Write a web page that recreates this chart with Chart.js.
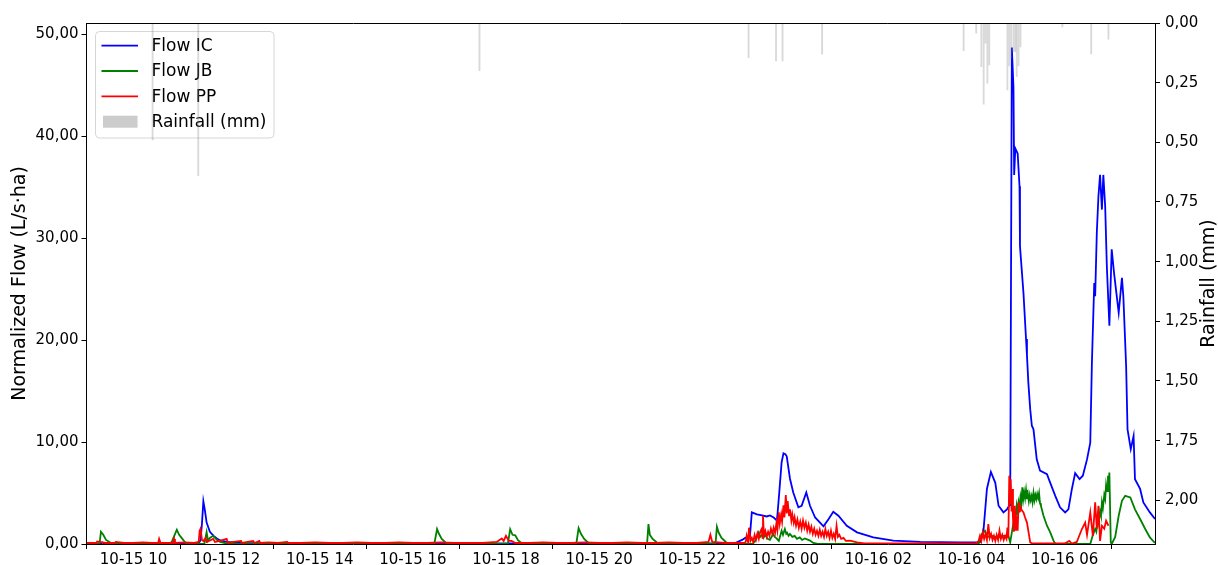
<!DOCTYPE html>
<html>
<head>
<meta charset="utf-8">
<script src="https://cdn.jsdelivr.net/npm/chart.js@4.4.1/dist/chart.umd.min.js"></script>
<style>
html,body{margin:0;padding:0;background:#ffffff;}
canvas{display:block;}
</style>
</head>
<body>
<canvas id="c" width="1218" height="565"></canvas>
<script>
// Time in hours since 10-15 00:00 (24 = 10-16 00:00)
const xTickHours = [10, 12, 14, 16, 18, 20, 22, 24, 26, 28, 30];
const xTickLabels = ['10-15 10', '10-15 12', '10-15 14', '10-15 16', '10-15 18', '10-15 20', '10-15 22', '10-16 00', '10-16 02', '10-16 04', '10-16 06'];
const flowTicks = [0, 10, 20, 30, 40, 50];
const rainTicks = [0, 0.25, 0.5, 0.75, 1.0, 1.25, 1.5, 1.75, 2.0];
const seriesNames = ['Flow IC', 'Flow JB', 'Flow PP', 'Rainfall (mm)'];

// [hour, L/s·ha]
const flowIC = [[9.00,0.05],[9.30,0.05],[9.33,0.15],[9.37,0.05],[11.40,0.05],[11.44,0.4],[11.47,2.0],[11.50,4.2],[11.53,3.4],[11.57,2.1],[11.64,1.2],[11.72,0.8],[11.79,0.55],[11.86,0.35],[12.00,0.2],[12.30,0.1],[13.00,0.05],[22.90,0.05],[23.07,0.4],[23.14,0.6],[23.24,0.8],[23.28,3.1],[23.39,2.9],[23.50,2.8],[23.60,2.7],[23.67,2.8],[23.75,2.6],[23.82,2.3],[23.86,4.5],[23.92,8.0],[23.96,8.9],[24.00,8.8],[24.03,8.6],[24.10,6.4],[24.17,5.05],[24.28,3.6],[24.35,3.75],[24.45,5.05],[24.53,3.75],[24.64,2.6],[24.82,1.73],[24.93,2.45],[25.03,3.16],[25.14,2.77],[25.32,1.79],[25.54,1.14],[25.89,0.65],[26.32,0.33],[26.90,0.2],[27.76,0.15],[28.18,0.15],[28.25,1.0],[28.33,5.4],[28.415,7.07],[28.51,6.0],[28.58,3.75],[28.685,3.1],[28.76,3.4],[28.81,3.75],[28.83,3.8],[28.865,48.7],[28.90,44.8],[28.915,36.2],[28.94,38.8],[28.99,38.3],[29.03,35.1],[29.04,29.2],[29.115,24.6],[29.17,20.1],[29.19,18.5],[29.22,15.8],[29.26,13.2],[29.295,11.6],[29.33,11.25],[29.40,8.3],[29.47,7.2],[29.62,6.85],[29.69,6.0],[29.80,4.7],[29.90,3.6],[30.01,3.1],[30.08,3.4],[30.155,5.4],[30.225,6.95],[30.32,6.36],[30.39,6.7],[30.48,8.3],[30.55,9.95],[30.585,17.8],[30.635,25.6],[30.655,24.3],[30.69,30.5],[30.725,34.1],[30.76,36.2],[30.80,32.8],[30.83,36.2],[30.87,33.1],[30.906,27.2],[30.96,21.4],[31.01,28.9],[31.06,26.6],[31.16,22.7],[31.23,26.1],[31.26,24.3],[31.32,17.45],[31.35,11.25],[31.42,9.3],[31.48,10.6],[31.51,6.36],[31.62,5.4],[31.69,4.08],[31.83,3.1],[31.94,2.45]];

const flowJB = [[9.00,0],[9.27,0],[9.30,1.2],[9.35,0.9],[9.41,0.4],[9.50,0.15],[9.54,0.05],[10.78,0],[10.83,0.3],[10.93,1.4],[10.98,0.9],[11.05,0.5],[11.11,0.15],[11.15,0],[11.52,0],[11.57,1.17],[11.60,0.3],[11.64,0.6],[11.71,0.8],[11.79,0.4],[11.86,0.2],[12.00,0.05],[12.10,0],[16.46,0],[16.52,1.47],[16.56,1.0],[16.62,0.5],[16.70,0.15],[16.78,0],[18.04,0],[18.09,1.45],[18.14,0.9],[18.20,0.85],[18.26,0.35],[18.35,0.05],[18.40,0],[19.51,0],[19.56,1.55],[19.61,1.0],[19.68,0.5],[19.76,0.15],[19.85,0],[21.03,0],[21.06,1.95],[21.09,0.9],[21.15,0.5],[21.24,0.15],[21.30,0],[22.50,0],[22.53,1.7],[22.57,1.1],[22.63,0.6],[22.72,0.2],[22.80,0],[23.30,0],[23.35,0.3],[23.42,1.14],[23.46,0.7],[23.50,0.9],[23.53,0.6],[23.565,0.9],[23.62,0.5],[23.67,0.4],[23.74,1.0],[23.77,0.7],[23.80,0.6],[23.86,0.3],[23.92,1.3],[23.95,0.9],[23.99,1.47],[24.02,1.0],[24.04,1.1],[24.07,0.8],[24.10,0.98],[24.15,0.7],[24.20,0.8],[24.25,0.5],[24.31,0.65],[24.36,0.4],[24.42,0.55],[24.53,0.33],[24.60,0.1],[24.70,0],[28.15,0],[28.22,0.98],[28.29,1.3],[28.35,0.7],[28.45,0.8],[28.55,0.6],[28.685,0.8],[28.79,0.8],[28.83,0.16],[28.90,2.1],[28.93,3.0],[28.95,2.6],[28.97,3.75],[28.99,3.2],[29.01,4.1],[29.03,3.6],[29.05,4.6],[29.07,4.0],[29.09,5.55],[29.11,4.4],[29.13,5.1],[29.15,4.5],[29.17,5.3],[29.19,4.4],[29.21,4.9],[29.23,4.2],[29.25,4.8],[29.27,4.3],[29.29,4.7],[29.31,4.1],[29.33,5.0],[29.35,4.3],[29.37,4.8],[29.39,4.4],[29.41,4.9],[29.43,4.5],[29.45,5.0],[29.47,4.0],[29.49,3.75],[29.545,2.77],[29.62,1.79],[29.69,1.14],[29.76,0.33],[29.80,0],[30.55,0],[30.60,0.8],[30.655,1.47],[30.68,1.2],[30.71,2.4],[30.73,2.0],[30.76,3.2],[30.78,2.8],[30.80,4.08],[30.82,3.5],[30.85,4.8],[30.87,4.4],[30.89,5.8],[30.91,5.2],[30.93,6.7],[30.95,6.2],[30.96,7.0],[30.99,0.16],[31.01,0],[31.085,0.7],[31.16,2.77],[31.23,4.24],[31.30,4.73],[31.41,4.57],[31.51,3.4],[31.62,2.45],[31.73,1.47],[31.83,0.65],[31.94,0.1]];

const flowPP = [[9.00,0.1],[9.20,0.1],[9.22,0.25],[9.40,0.1],[9.60,0.1],[9.62,0.2],[9.80,0.1],[10.00,0.1],[10.20,0.15],[10.40,0.1],[10.53,0.1],[10.55,0.5],[10.58,0.1],[10.80,0.1],[10.85,0.1],[10.87,0.5],[10.89,0.1],[11.10,0.15],[11.30,0.1],[11.40,0.2],[11.42,1.3],[11.44,1.5],[11.47,0.4],[11.50,0.3],[11.55,0.6],[11.57,0.2],[11.62,0.3],[11.71,0.5],[11.75,0.2],[11.85,0.3],[12.00,0.5],[12.03,0.1],[12.15,0.2],[12.31,0.3],[12.33,0.1],[12.45,0.2],[12.57,0.3],[12.60,0.1],[12.70,0.3],[12.72,0.1],[12.90,0.15],[13.10,0.1],[13.30,0.2],[13.32,0.1],[13.60,0.1],[13.90,0.15],[14.20,0.1],[14.50,0.1],[14.80,0.15],[15.10,0.1],[15.40,0.1],[15.70,0.15],[16.00,0.1],[16.30,0.1],[16.60,0.15],[16.90,0.1],[17.20,0.1],[17.50,0.1],[17.80,0.2],[17.91,0.55],[17.95,0.3],[18.00,0.8],[18.06,0.3],[18.12,0.3],[18.20,0.1],[18.50,0.1],[18.80,0.15],[19.10,0.1],[19.40,0.1],[19.70,0.15],[20.00,0.1],[20.30,0.1],[20.60,0.15],[20.90,0.1],[21.20,0.1],[21.50,0.15],[21.80,0.1],[22.10,0.1],[22.35,0.2],[22.39,0.9],[22.43,0.2],[22.70,0.1],[22.90,0.1],[23.10,0.1],[23.15,0.2],[23.17,0.8],[23.20,0.2],[23.22,1.6],[23.25,0.3],[23.28,0.6],[23.31,0.2],[23.34,0.9],[23.37,0.4],[23.40,1.0],[23.43,0.5],[23.46,1.2],[23.49,1.47],[23.51,0.6],[23.52,2.77],[23.54,0.9],[23.57,1.3],[23.60,0.7],[23.63,1.2],[23.66,0.8],[23.69,1.5],[23.72,1.0],[23.75,1.6],[23.78,1.1],[23.81,2.1],[23.83,1.4],[23.86,3.1],[23.88,2.0],[23.91,2.9],[23.93,2.2],[23.96,3.8],[23.98,2.6],[24.01,4.8],[24.03,3.0],[24.05,4.2],[24.08,2.8],[24.10,3.4],[24.13,2.3],[24.15,2.9],[24.18,2.1],[24.20,2.6],[24.23,1.8],[24.26,2.4],[24.29,1.6],[24.32,2.2],[24.35,1.5],[24.38,2.3],[24.41,1.6],[24.44,2.1],[24.47,1.3],[24.50,1.9],[24.53,1.2],[24.56,1.7],[24.59,1.0],[24.62,1.5],[24.65,0.9],[24.68,1.3],[24.71,0.8],[24.74,1.4],[24.77,0.8],[24.80,1.2],[24.83,0.7],[24.86,1.47],[24.89,0.8],[24.92,1.2],[24.95,0.6],[24.98,1.3],[25.01,0.6],[25.04,1.0],[25.07,0.5],[25.10,1.79],[25.13,0.7],[25.16,0.9],[25.20,0.5],[25.25,0.6],[25.30,0.3],[25.39,0.33],[25.54,0.16],[25.70,0.05],[28.10,0.05],[28.15,0.3],[28.18,0.8],[28.21,0.3],[28.24,1.14],[28.27,0.5],[28.30,1.0],[28.33,0.4],[28.36,1.96],[28.39,0.6],[28.42,0.98],[28.45,0.4],[28.48,0.8],[28.51,0.3],[28.54,0.9],[28.57,0.4],[28.60,1.3],[28.63,0.5],[28.66,0.9],[28.69,0.4],[28.72,0.8],[28.75,0.5],[28.77,1.6],[28.79,0.6],[28.81,6.7],[28.83,4.0],[28.84,6.36],[28.86,3.2],[28.87,5.4],[28.89,2.45],[28.91,1.2],[28.93,3.75],[28.95,1.3],[28.97,2.2],[28.99,1.3],[29.01,4.08],[29.03,3.2],[29.04,3.75],[29.08,3.3],[29.115,3.1],[29.15,2.6],[29.19,2.1],[29.23,1.0],[29.26,0.16],[29.30,0.05],[30.00,0.05],[30.10,0.3],[30.15,0.05],[30.26,0.2],[30.37,1.47],[30.44,2.1],[30.48,0.9],[30.55,3.1],[30.605,0.8],[30.655,4.08],[30.69,1.5],[30.725,3.75],[30.76,0.3],[30.80,1.79],[30.85,1.5],[30.89,2.28],[30.94,1.79]];

// [hour, mm]
const rainfall = [[10.41,0.49],[11.39,0.64],[17.43,0.2],[23.21,0.145],[23.80,0.159],[23.94,0.159],[24.79,0.131],[27.83,0.116],[28.10,0.043],[28.21,0.183],[28.26,0.34],[28.30,0.085],[28.34,0.252],[28.38,0.176],[28.77,0.28],[28.81,0.18],[28.85,0.15],[28.90,0.12],[28.94,0.12],[28.97,0.225],[29.01,0.18],[29.05,0.1],[29.95,0.016],[30.57,0.13],[30.94,0.068]];

const toXY = arr => arr.map(p => ({x: p[0], y: p[1]}));
const fmt2 = v => v.toFixed(2).replace('.', ',');
const FONT = "'DejaVu Sans', sans-serif";

const decorPlugin = {
  id: 'decor',
  beforeDatasetsDraw(chart) {
    const ctx = chart.ctx;
    const x0 = 95.5, y0 = 31.5, w = 178.5, h = 106.5, r = 4;
    ctx.save();
    ctx.beginPath();
    ctx.moveTo(x0 + r, y0);
    ctx.lineTo(x0 + w - r, y0);
    ctx.arcTo(x0 + w, y0, x0 + w, y0 + r, r);
    ctx.lineTo(x0 + w, y0 + h - r);
    ctx.arcTo(x0 + w, y0 + h, x0 + w - r, y0 + h, r);
    ctx.lineTo(x0 + r, y0 + h);
    ctx.arcTo(x0, y0 + h, x0, y0 + h - r, r);
    ctx.lineTo(x0, y0 + r);
    ctx.arcTo(x0, y0, x0 + r, y0, r);
    ctx.closePath();
    ctx.fillStyle = 'rgba(255,255,255,0.8)';
    ctx.fill();
    ctx.strokeStyle = '#d6d6d6';
    ctx.lineWidth = 1;
    ctx.stroke();
    const rows = [45.7, 71, 96.3, 121.7];
    const ds = chart.data.datasets;
    ctx.font = '17px ' + FONT;
    ctx.textBaseline = 'middle';
    ctx.textAlign = 'left';
    for (let i = 0; i < 4; i++) {
      const yy = rows[i];
      if (i < 3) {
        ctx.strokeStyle = ds[i].borderColor;
        ctx.lineWidth = 1.8;
        ctx.beginPath();
        ctx.moveTo(101.5, yy);
        ctx.lineTo(138, yy);
        ctx.stroke();
      } else {
        ctx.fillStyle = '#cccccc';
        ctx.fillRect(103, yy - 6, 34.5, 12);
      }
      ctx.fillStyle = '#000';
      ctx.fillText(ds[i].label, 151.5, yy + 1);
    }
    ctx.restore();
  },
  afterDraw(chart) {
    const ctx = chart.ctx;
    const a = chart.chartArea;
    ctx.save();
    ctx.strokeStyle = '#000';
    ctx.lineWidth = 1;
    ctx.beginPath();
    ctx.moveTo(a.left, a.top + 0.5);
    ctx.lineTo(a.right, a.top + 0.5);
    ctx.stroke();
    const cy = (a.top + a.bottom) / 2;
    ctx.font = '19px ' + FONT;
    ctx.fillStyle = '#000';
    ctx.textAlign = 'center';
    ctx.textBaseline = 'middle';
    ctx.translate(20, cy);
    ctx.rotate(-Math.PI / 2);
    ctx.fillText('Normalized Flow (L/s·ha)', 0, 0);
    ctx.restore();
    ctx.save();
    ctx.font = '19px ' + FONT;
    ctx.fillStyle = '#000';
    ctx.textAlign = 'center';
    ctx.textBaseline = 'middle';
    ctx.translate(1209, cy);
    ctx.rotate(-Math.PI / 2);
    ctx.fillText('Rainfall (mm)', 0, 0);
    ctx.restore();
  }
};

const axisGrid = {display: true, drawOnChartArea: false, drawTicks: true, tickLength: 5, tickColor: '#000', tickWidth: 1};
const axisBorder = {display: true, color: '#000', width: 1};
const tickFont = {family: FONT, size: 15};

new Chart(document.getElementById('c'), {
  type: 'line',
  data: {
    datasets: [
      {label: seriesNames[0], data: toXY(flowIC), borderColor: '#0000ff', borderWidth: 1.8, pointRadius: 0, tension: 0, yAxisID: 'y', order: 3},
      {label: seriesNames[1], data: toXY(flowJB), borderColor: '#008000', borderWidth: 1.8, pointRadius: 0, tension: 0, yAxisID: 'y', order: 2},
      {label: seriesNames[2], data: toXY(flowPP), borderColor: '#ff0000', borderWidth: 1.8, pointRadius: 0, tension: 0, yAxisID: 'y', order: 1},
      {type: 'bar', label: seriesNames[3], data: toXY(rainfall), backgroundColor: 'rgba(128,128,128,0.3)', borderWidth: 0, barThickness: 1.2, yAxisID: 'y2', order: 0, grouped: false}
    ]
  },
  options: {
    responsive: false,
    animation: false,
    devicePixelRatio: 1,
    layout: {padding: {top: 23, left: 0, right: 0, bottom: 0}},
    plugins: {legend: {display: false}, tooltip: {enabled: false}, title: {display: false}},
    scales: {
      x: {
        type: 'linear', min: 8.99, max: 31.94, offset: false,
        grid: axisGrid, border: axisBorder,
        afterBuildTicks: s => { s.ticks = xTickHours.map(v => ({value: v})); },
        afterFit: s => { s.height = 21; },
        ticks: {autoSkip: false, maxRotation: 0, color: '#000', font: tickFont, padding: 2,
          callback: v => xTickLabels[xTickHours.indexOf(v)]}
      },
      y: {
        type: 'linear', position: 'left', min: 0, max: 51.1,
        grid: axisGrid, border: axisBorder,
        afterBuildTicks: s => { s.ticks = flowTicks.map(v => ({value: v})); },
        afterFit: s => { s.width = 86.5; },
        ticks: {color: '#000', font: tickFont, padding: 3, callback: v => fmt2(v)}
      },
      y2: {
        type: 'linear', position: 'right', min: 0, max: 2.183, reverse: true,
        grid: axisGrid, border: axisBorder,
        afterBuildTicks: s => { s.ticks = rainTicks.map(v => ({value: v})); },
        afterFit: s => { s.width = 63; },
        ticks: {color: '#000', font: tickFont, padding: 5, callback: v => fmt2(v)}
      }
    }
  },
  plugins: [decorPlugin]
});
</script>
</body>
</html>
